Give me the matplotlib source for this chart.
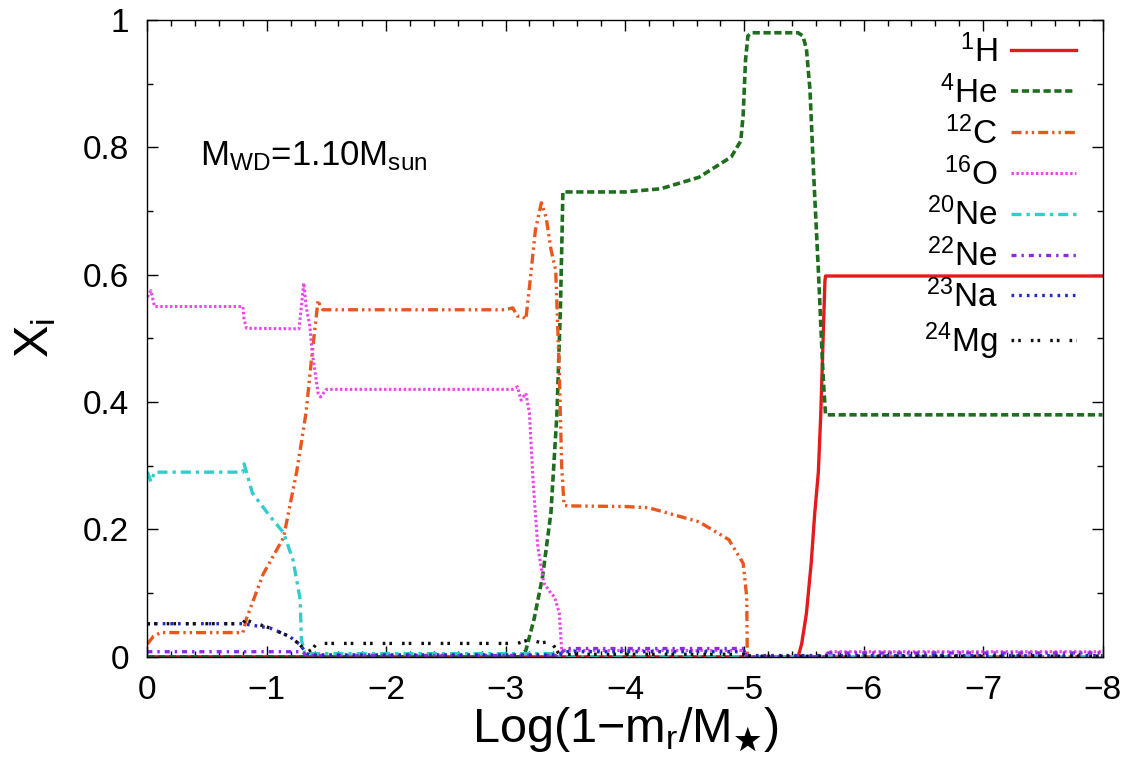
import matplotlib
matplotlib.use("Agg")
import matplotlib.pyplot as plt
from matplotlib.ticker import MultipleLocator, FuncFormatter

plt.rcParams['font.family'] = ['Liberation Sans', 'DejaVu Sans']
plt.rcParams['mathtext.fontset'] = 'custom'
plt.rcParams['mathtext.rm'] = 'Liberation Sans'
plt.rcParams['mathtext.it'] = 'Liberation Sans'
plt.rcParams['mathtext.bf'] = 'Liberation Sans:bold'
plt.rcParams['mathtext.sf'] = 'Liberation Sans'
plt.rcParams['mathtext.fallback'] = 'stixsans'

# ---------------- data ----------------
h_x = [0, -5.45, -5.48, -5.52, -5.56, -5.59, -5.62, -5.64, -5.66, -5.675, -5.68, -8]
h_y = [0, 0, 0.02, 0.068, 0.147, 0.226, 0.29, 0.38, 0.50, 0.59, 0.598, 0.598]

he_x = [0, -3.12, -3.17, -3.24, -3.31, -3.38, -3.43, -3.46, -3.475, -3.48, -4.0, -4.3,
        -4.62, -4.89, -4.97, -4.99, -5.01, -5.03, -5.06, -5.45, -5.49, -5.52, -5.55,
        -5.58, -5.62, -5.66, -5.68, -8]
he_y = [0, 0, 0.01, 0.06, 0.126, 0.226, 0.38, 0.55, 0.68, 0.73, 0.73, 0.735,
        0.753, 0.785, 0.81, 0.85, 0.937, 0.975, 0.98, 0.98, 0.975, 0.955, 0.89,
        0.76, 0.607, 0.44, 0.38, 0.38]

c_x = [0, -0.05, -0.11, -0.8, -0.83, -0.97, -1.14, -1.25, -1.31, -1.33, -1.38, -1.43,
       -1.45, -1.47, -3.0, -3.06, -3.1, -3.14, -3.17, -3.2, -3.25, -3.3, -3.34, -3.38,
       -3.42, -3.45, -3.47, -3.49, -3.52, -4.0, -4.2, -4.62, -4.87, -4.99, -5.02,
       -5.025, -8]
c_y = [0.02, 0.032, 0.038, 0.038, 0.06, 0.13, 0.187, 0.29, 0.36, 0.385, 0.477, 0.56,
       0.55, 0.545, 0.545, 0.548, 0.535, 0.535, 0.53, 0.58, 0.67, 0.713, 0.69, 0.64,
       0.607, 0.45, 0.3, 0.238, 0.237, 0.236, 0.234, 0.212, 0.184, 0.147, 0.094,
       0.0, 0.0]

o_x = [0, -0.03, -0.06, -0.8, -0.81, -0.83, -1.27, -1.29, -1.31, -1.33, -1.36, -1.38,
       -1.41, -1.43, -1.45, -1.5, -3.06, -3.1, -3.13, -3.17, -3.2, -3.23, -3.27, -3.32,
       -3.38, -3.41, -3.45, -3.47, -3.5, -5.0, -5.02, -5.68, -5.7, -8]
o_y = [0.565, 0.575, 0.55, 0.55, 0.53, 0.516, 0.515, 0.55, 0.587, 0.55, 0.52, 0.48,
       0.44, 0.414, 0.408, 0.42, 0.42, 0.424, 0.403, 0.414, 0.383, 0.278, 0.173, 0.116,
       0.1, 0.094, 0.069, 0.011, 0.01, 0.01, 0.0, 0.0, 0.008, 0.008]

ne20_x = [0, -0.03, -0.06, -0.8, -0.81, -0.88, -1.03, -1.14, -1.22, -1.28, -1.29, -1.32,
          -3.4, -3.45, -8]
ne20_y = [0.29, 0.275, 0.29, 0.29, 0.303, 0.257, 0.22, 0.195, 0.152, 0.09, 0.027, 0.005,
          0.005, 0.0, 0.0]

ne22_x = [0, -1.3, -1.33, -3.45, -3.5, -5.0, -5.02, -5.68, -5.7, -8]
ne22_y = [0.008, 0.008, 0.002, 0.002, 0.013, 0.013, 0.0, 0.0, 0.006, 0.006]

na_x = [0, -0.8, -1.03, -1.19, -1.28, -1.33, -1.36, -3.45, -3.5, -5.0, -5.02, -8]
na_y = [0.052, 0.052, 0.045, 0.032, 0.019, 0.006, 0.003, 0.003, 0.008, 0.008, 0.002, 0.002]

mg_x = [0, -0.8, -0.82, -1.03, -1.19, -1.28, -1.33, -1.38, -1.42, -3.1, -3.2, -3.3,
        -3.38, -3.45, -5.0, -5.02, -8]
mg_y = [0.052, 0.052, 0.058, 0.045, 0.032, 0.019, 0.006, 0.012, 0.021, 0.021, 0.027, 0.022,
        0.024, 0.004, 0.004, 0.001, 0.001]

labels = [r'$^{1}$H', r'$^{4}$He', r'$^{12}$C', r'$^{16}$O', r'$^{20}$Ne', r'$^{22}$Ne',
          r'$^{23}$Na', r'$^{24}$Mg']
xticks = [0, -1, -2, -3, -4, -5, -6, -7, -8]
yticks = [0, 0.2, 0.4, 0.6, 0.8, 1.0]

# ---------------- figure ----------------
fig = plt.figure(figsize=(11.25, 7.7), dpi=100)
ax = fig.add_axes([0.131, 0.147, 0.849, 0.827])

series = [
    (h_x, h_y, dict(color='#e41a1c', lw=2.4, ls='-')),
    (he_x, he_y, dict(color='#1e6e1e', lw=2.6, dashes=(2.0, 1.0))),
    (c_x, c_y, dict(color='#e8581e', lw=2.4, dashes=(3.0, 1.2, 0.7, 1.2, 0.7, 1.2))),
    (o_x, o_y, dict(color='#ee44ee', lw=2.2, dashes=(0.8, 0.8))),
    (ne20_x, ne20_y, dict(color='#33cccc', lw=2.4, dashes=(3.0, 1.5, 1.0, 1.5))),
    (ne22_x, ne22_y, dict(color='#8a2be2', lw=2.4, dashes=(1.5, 1.5, 0.7, 1.5))),
    (na_x, na_y, dict(color='#2828c8', lw=2.4, dashes=(0.8, 1.5))),
    (mg_x, mg_y, dict(color='#111111', lw=2.4, dashes=(0.8, 1.2, 0.8, 3.0))),
]
handles = []
for (xs, ys, st), lab in zip(series, labels):
    ln, = ax.plot(xs, ys, label=lab, **st)
    handles.append(ln)

ax.set_xlim(0, -8)
ax.set_ylim(0, 1)
ax.set_xticks(xticks)
ax.set_yticks(yticks)
ax.xaxis.set_minor_locator(MultipleLocator(0.2))
ax.yaxis.set_minor_locator(MultipleLocator(0.1))
ax.yaxis.set_major_formatter(FuncFormatter(lambda v, p: '%g' % v))
ax.tick_params(which='both', direction='in', top=True, right=True, width=1.0)
ax.tick_params(which='major', length=8, labelsize=24)
ax.tick_params(axis='x', which='major', pad=13)
ax.tick_params(axis='y', which='major', pad=13)
ax.tick_params(which='minor', length=4)
for s in ax.spines.values():
    s.set_linewidth(1.0)

ax.set_xlabel('Log(1\u2212m$_\\mathregular{r}$/M$_{\u2605}$)', fontsize=35, labelpad=0)
ax.set_ylabel(r'X$_\mathregular{i}$', fontsize=35, labelpad=18)

ax.text(-0.44, 0.772, r'M$_\mathregular{WD}$=1.10M$_\mathregular{sun}$', fontsize=25,
        ha='left', va='baseline')

leg = ax.legend(handles=handles, loc='upper right', markerfirst=False, frameon=False,
                fontsize=24, handlelength=1.95, handletextpad=0.4, labelspacing=0.19,
                borderaxespad=0.0, borderpad=0.0, bbox_to_anchor=(0.972, 0.977))

fig.savefig('out.png', dpi=100)
